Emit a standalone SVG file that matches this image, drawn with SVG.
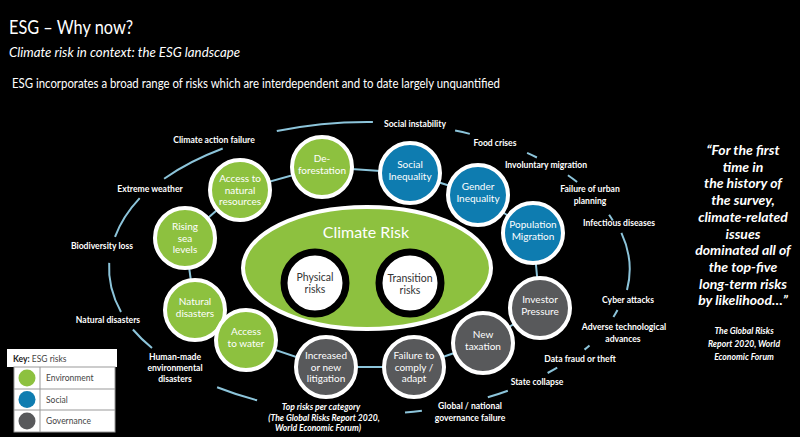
<svg xmlns="http://www.w3.org/2000/svg" width="800" height="437" viewBox="0 0 800 437">
<style>
.t{font-family:Lato,"Liberation Sans",sans-serif;fill:#fff}
.lbl{font-family:Lato,"Liberation Sans",sans-serif;font-size:8.6px;font-weight:bold;fill:#fff;text-anchor:middle}
.nt{font-family:Lato,"Liberation Sans",sans-serif;font-size:10px;fill:#fff;text-anchor:middle}
.ring{fill:none;stroke:#8cc4da;stroke-width:2}
.link{stroke:#8cc4da;stroke-width:2}
.env{fill:#8dc13f;stroke:#fff;stroke-width:4}
.soc{fill:#0e7cb0;stroke:#fff;stroke-width:4}
.gov{fill:#58595b;stroke:#fff;stroke-width:4}
.q{font-family:Lato,"Liberation Sans",sans-serif;font-size:14px;font-weight:bold;font-style:italic;fill:#fff;text-anchor:middle}
.qs{font-family:Lato,"Liberation Sans",sans-serif;font-size:8.6px;font-weight:bold;font-style:italic;fill:#fff;text-anchor:middle}
.key{font-family:Lato,"Liberation Sans",sans-serif;font-size:8.5px;fill:#444}
</style>
<rect width="800" height="437" fill="#000"/>
<text class="t" x="9" y="34" font-size="19" textLength="124" lengthAdjust="spacingAndGlyphs">ESG – Why now?</text>
<text class="t" x="9" y="57" font-size="14" font-style="italic" textLength="231" lengthAdjust="spacingAndGlyphs">Climate risk in context: the ESG landscape</text>
<text class="t" x="12" y="88" font-size="12.6" textLength="488" lengthAdjust="spacingAndGlyphs">ESG incorporates a broad range of risks which are interdependent and to date largely unquantified</text>

<g id="outer-ring">
<path class="ring" d="M276.8 131.1 A260 146 0 0 1 372.9 122.0"/>
<path class="ring" d="M455.1 130.6 A260 146 0 0 1 469.8 133.9"/>
<path class="ring" d="M527.1 152.9 A260 146 0 0 1 536.9 157.5"/>
<path class="ring" d="M567.9 175.3 A260 146 0 0 1 577.1 182.0"/>
<path class="ring" d="M609.1 214.7 A260 146 0 0 1 612.8 220.5"/>
<path class="ring" d="M621.4 232.9 A264 146 0 0 1 627.0 290.1"/>
<path class="ring" d="M617.5 310.0 A260 146 0 0 1 613.4 317.0"/>
<path class="ring" d="M589.5 345.4 A260 146 0 0 1 584.5 349.6"/>
<path class="ring" d="M557.2 367.6 A260 146 0 0 1 547.6 373.0"/>
<path class="ring" d="M507.8 390.7 A260 146 0 0 1 487.8 397.3"/>
<path class="ring" d="M421.9 410.7 A260 146 0 0 1 405.0 412.4"/>
<path class="ring" d="M257.1 400.3 A260 146 0 0 1 217.1 387.3"/>
<path class="ring" d="M152.0 348.1 A260 146 0 0 1 132.9 329.5"/>
<path class="ring" d="M121.0 311.9 A260 146 0 0 1 109.2 262.9"/>
<path class="ring" d="M115.0 236.9 A260 146 0 0 1 139.7 198.1"/>
<path class="ring" d="M164.1 178.7 A260 146 0 0 1 222.7 148.5"/>
</g>

<g id="ring-labels">
<text class="lbl" x="415" y="127">Social instability</text>
<text class="lbl" x="495" y="146">Food crises</text>
<text class="lbl" x="546" y="168">Involuntary migration</text>
<text class="lbl" x="590" y="192">Failure of urban</text>
<text class="lbl" x="590" y="203.5">planning</text>
<text class="lbl" x="619" y="226">Infectious diseases</text>
<text class="lbl" x="628" y="303">Cyber attacks</text>
<text class="lbl" x="624" y="330">Adverse technological</text>
<text class="lbl" x="623" y="342">advances</text>
<text class="lbl" x="580" y="362">Data fraud or theft</text>
<text class="lbl" x="537" y="385">State collapse</text>
<text class="lbl" x="470" y="409">Global / national</text>
<text class="lbl" x="470" y="420.5">governance failure</text>
<text class="lbl" x="214" y="143">Climate action failure</text>
<text class="lbl" x="150" y="192">Extreme weather</text>
<text class="lbl" x="102" y="249">Biodiversity loss</text>
<text class="lbl" x="108" y="323">Natural disasters</text>
<text class="lbl" x="175" y="360">Human-made</text>
<text class="lbl" x="175" y="371">environmental</text>
<text class="lbl" x="175" y="382">disasters</text>
<text class="lbl" x="321" y="410" font-style="italic">Top risks per category</text>
<text class="lbl" x="324" y="420.5" font-style="italic">(The Global Risks Report 2020,</text>
<text class="lbl" x="318" y="431" font-style="italic">World Economic Forum)</text>
</g>

<g id="connectors">
<line class="link" x1="322" y1="167" x2="410" y2="173"/>
<line class="link" x1="410" y1="173" x2="478" y2="195"/>
<line class="link" x1="478" y1="195" x2="533" y2="233"/>
<line class="link" x1="533" y1="233" x2="540" y2="308"/>
<line class="link" x1="540" y1="308" x2="483" y2="343"/>
<line class="link" x1="483" y1="343" x2="414" y2="367"/>
<line class="link" x1="414" y1="367" x2="326" y2="367"/>
<line class="link" x1="326" y1="367" x2="246" y2="340"/>
<line class="link" x1="246" y1="340" x2="195" y2="310"/>
<line class="link" x1="195" y1="310" x2="185" y2="238"/>
<line class="link" x1="185" y1="238" x2="240" y2="190"/>
<line class="link" x1="240" y1="190" x2="322" y2="167"/>
</g>

<g id="climate-risk">
<ellipse cx="367" cy="268" rx="124" ry="61" fill="#8dc13f" stroke="#fff" stroke-width="4"/>
<text class="t" x="366" y="238" font-size="16" text-anchor="middle">Climate Risk</text>
</g>
<g id="physical-risks">
<circle cx="315" cy="283" r="31" fill="#fff" stroke="#000" stroke-width="7"/>
<text class="nt" x="315" y="281" style="fill:#333;font-size:10.5px">Physical</text>
<text class="nt" x="315" y="293" style="fill:#333;font-size:10.5px">risks</text>
</g>
<g id="transition-risks">
<circle cx="410" cy="283" r="31" fill="#fff" stroke="#000" stroke-width="7"/>
<text class="nt" x="410" y="282" style="fill:#333;font-size:10.5px">Transition</text>
<text class="nt" x="410" y="294" style="fill:#333;font-size:10.5px">risks</text>
</g>

<g id="deforestation"><circle class="env" cx="322" cy="167" r="30"/>
<text class="nt" x="322" y="162">De-</text><text class="nt" x="322" y="173.5">forestation</text></g>
<g id="access-natural-resources"><circle class="env" cx="240" cy="190" r="30"/>
<text class="nt" x="240" y="182">Access to</text><text class="nt" x="240" y="193.5">natural</text><text class="nt" x="240" y="205">resources</text></g>
<g id="rising-sea-levels"><circle class="env" cx="185" cy="238" r="30"/>
<text class="nt" x="185" y="230">Rising</text><text class="nt" x="185" y="241.5">sea</text><text class="nt" x="185" y="253">levels</text></g>
<g id="natural-disasters"><circle class="env" cx="195" cy="310" r="30"/>
<text class="nt" x="195" y="305">Natural</text><text class="nt" x="195" y="316.5">disasters</text></g>
<g id="access-to-water"><circle class="env" cx="246" cy="340" r="30"/>
<text class="nt" x="246" y="335">Access</text><text class="nt" x="246" y="346.5">to water</text></g>
<g id="litigation"><circle class="gov" cx="326" cy="367" r="30"/>
<text class="nt" x="326" y="359">Increased</text><text class="nt" x="326" y="370.5">or new</text><text class="nt" x="326" y="382">litigation</text></g>
<g id="failure-to-comply"><circle class="gov" cx="414" cy="367" r="30"/>
<text class="nt" x="414" y="359">Failure to</text><text class="nt" x="414" y="370.5">comply /</text><text class="nt" x="414" y="382">adapt</text></g>
<g id="new-taxation"><circle class="gov" cx="483" cy="343" r="30"/>
<text class="nt" x="483" y="338">New</text><text class="nt" x="483" y="349.5">taxation</text></g>
<g id="investor-pressure"><circle class="gov" cx="540" cy="308" r="30"/>
<text class="nt" x="540" y="303">Investor</text><text class="nt" x="540" y="314.5">Pressure</text></g>
<g id="population-migration"><circle class="soc" cx="533" cy="233" r="30"/>
<text class="nt" x="533" y="228">Population</text><text class="nt" x="533" y="239.5">Migration</text></g>
<g id="gender-inequality"><circle class="soc" cx="478" cy="195" r="30"/>
<text class="nt" x="478" y="190">Gender</text><text class="nt" x="478" y="201.5">Inequality</text></g>
<g id="social-inequality"><circle class="soc" cx="410" cy="173" r="30"/>
<text class="nt" x="410" y="168">Social</text><text class="nt" x="410" y="179.5">Inequality</text></g>

<g id="quote">
<text class="q" x="743" y="155">“For the first</text>
<text class="q" x="743" y="171.7">time in</text>
<text class="q" x="743" y="188.4">the history of</text>
<text class="q" x="743" y="205">the survey,</text>
<text class="q" x="743" y="221.8">climate-related</text>
<text class="q" x="743" y="238.5">issues</text>
<text class="q" x="743" y="255.2">dominated all of</text>
<text class="q" x="743" y="272">the top-five</text>
<text class="q" x="743" y="288.6">long-term risks</text>
<text class="q" x="743" y="305.3">by likelihood…”</text>
<text class="qs" x="744" y="334">The Global Risks</text>
<text class="qs" x="744" y="347">Report 2020, World</text>
<text class="qs" x="744" y="360">Economic Forum</text>
</g>

<g id="key">
<rect x="7" y="349" width="110" height="18" fill="#fff"/>
<text class="key" x="13" y="362"><tspan font-weight="bold" fill="#222">Key:</tspan> ESG risks</text>
<rect x="14" y="367" width="101" height="65" fill="#fff" stroke="#999" stroke-width="1"/>
<line x1="40" y1="367" x2="40" y2="432" stroke="#999"/>
<line x1="14" y1="389" x2="115" y2="389" stroke="#999"/>
<line x1="14" y1="410" x2="115" y2="410" stroke="#999"/>
<circle cx="27" cy="378" r="8.5" fill="#8dc13f"/>
<circle cx="27" cy="399.5" r="8.5" fill="#0e7cb0"/>
<circle cx="27" cy="421" r="8.5" fill="#58595b"/>
<text class="key" x="46" y="381">Environment</text>
<text class="key" x="46" y="402.5">Social</text>
<text class="key" x="46" y="424">Governance</text>
</g>
</svg>
